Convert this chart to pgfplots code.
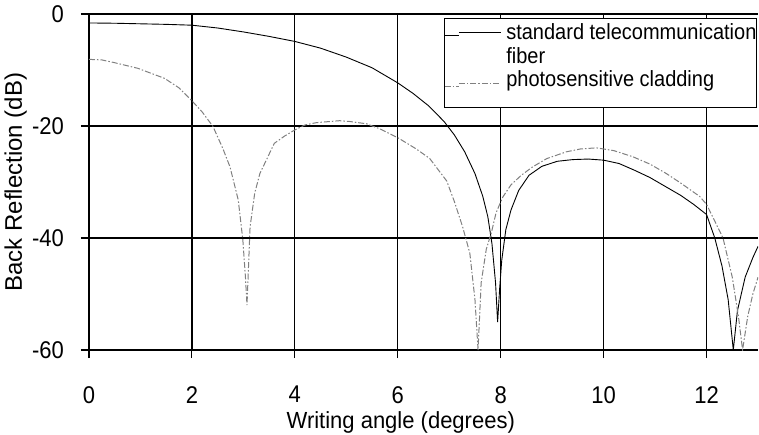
\documentclass[border=0pt]{standalone}
\usepackage{fontspec}
\setmainfont{Liberation Sans}
\usepackage{graphicx}
\usepackage{pgfplots}
\pgfplotsset{compat=1.18}

% slightly tall lettering, as in the printed figure
\newcommand\vs[1]{\scalebox{1}[1.1]{#1}}
\newcommand\legtxt[1]{\scalebox{1}[1.1]{#1}}

\begin{document}
\begin{tikzpicture}
\begin{axis}[
  at={(0,0)}, anchor=south west,
  scale only axis, width=669pt, height=336pt,
  xmin=0, xmax=13, ymin=-60, ymax=0,
  xtick={0,2,4,6,8,10,12},
  xticklabels={\vs{0},\vs{2},\vs{4},\vs{6},\vs{8},\vs{10},\vs{12}},
  ytick={-60,-40,-20,0},
  yticklabels={\vs{-60},\vs{-40},\vs{-20},\vs{0}},
  xticklabel style={font=\fontsize{22}{26}\selectfont, inner sep=0pt, anchor=north, yshift=-28pt},
  yticklabel style={font=\fontsize{22}{26}\selectfont, inner sep=0pt, anchor=east, xshift=-17pt},
  axis lines*=left,
  axis line style={black, line width=1.1pt},
  grid=major,
  major grid style={black, line width=1.2pt},
  tick align=outside,
  major tick length=8pt,
  tick style={black, line width=1.1pt},
  xlabel={\scalebox{1}[1.06]{Writing angle (degrees)}},
  xlabel style={font=\fontsize{22}{26}\selectfont, inner sep=0pt,
    at={(axis description cs:0.466,0)}, anchor=base, yshift=-78pt},
  ylabel={Back Reflection (dB)},
  ylabel style={font=\fontsize{24}{28}\selectfont, inner sep=0pt,
    at={(axis description cs:-0.1002,0.5)}, anchor=base},
  legend cell align=left,
  legend image code/.code={
    \path (0pt,0pt) -- (14pt,0pt);
    \draw[#1] (14pt,3pt) -- (56pt,3pt);
  },
  legend style={
    at={(rel axis cs:0.9985,0.988)}, anchor=north east,
    draw=black, line width=1.1pt, fill=white,
    inner xsep=0pt, inner ysep=5pt,
    nodes={inner sep=0pt, text height=16pt, text depth=7.5pt},
    column sep=5pt,
    font=\fontsize{20}{24}\selectfont,
  },
]

% standard telecommunication fiber
\addplot[black, line width=0.9pt] table {
x y
0 -1.6
0.5 -1.65
1 -1.75
1.5 -1.85
2 -2.0
2.5 -2.5
3 -3.2
3.5 -4.0
4 -4.9
4.5 -6.1
5 -7.7
5.5 -9.6
6 -12.3
6.3 -14.2
6.6 -16.4
6.9 -19.2
7.1 -21.6
7.3 -24.6
7.5 -28.5
7.65 -32.5
7.75 -36.2
7.83 -41
7.9 -48
7.94 -55
7.98 -49
8.02 -44
8.1 -38.5
8.2 -35
8.35 -31.5
8.55 -28.8
8.8 -27.2
9.1 -26.3
9.4 -26.0
9.7 -25.9
10.0 -26.1
10.3 -26.7
10.6 -27.9
10.9 -29.2
11.2 -30.8
11.5 -32.4
11.75 -34.0
12.0 -35.8
12.16 -40
12.3 -45
12.42 -51
12.52 -60
12.6 -53
12.75 -47
12.9 -43.5
13 -41.5
};
\addlegendentry{\legtxt{standard telecommunication}\hspace{8.7pt}}
\addlegendimage{empty legend}
\addlegendentry{\legtxt{fiber}}

% photosensitive cladding
\addplot[gray, line width=1pt, dash pattern=on 6pt off 2pt on 1.5pt off 2pt] table {
x y
0 -8.1
0.25 -8.2
0.5 -8.7
0.95 -9.7
1.47 -11.5
1.75 -13.2
1.99 -15.4
2.2 -17.5
2.41 -20.1
2.6 -24
2.74 -27.3
2.9 -33.2
2.99 -40.4
3.04 -47
3.07 -52
3.1 -45
3.13 -38
3.22 -32
3.32 -28.5
3.45 -26
3.6 -23.1
3.8 -21.8
4.0 -20.7
4.2 -19.8
4.42 -19.4
4.87 -19.05
5.07 -19.2
5.39 -19.6
5.65 -20.5
6.02 -22.2
6.36 -24.1
6.62 -25.8
6.95 -29.8
7.1 -33.5
7.26 -38
7.4 -42.7
7.5 -51
7.56 -60
7.62 -48
7.72 -42
7.82 -39
7.91 -35.5
8.04 -32.7
8.2 -30.5
8.4 -28.8
8.62 -27.3
8.9 -25.8
9.28 -24.6
9.55 -24.1
9.86 -23.9
10.2 -24.4
10.57 -25.5
10.9 -26.8
11.22 -28.5
11.5 -30.2
11.87 -32.6
12.0 -34
12.15 -36.8
12.32 -40
12.5 -47
12.62 -54
12.7 -60
12.8 -54
12.9 -50
13 -47
};
\addlegendentry[text depth=16pt]{\legtxt{photosensitive cladding}}
\end{axis}
\pgfresetboundingbox
\path[use as bounding box] (-89pt,-84pt) rectangle (670pt,350pt);
\end{tikzpicture}
\end{document}
